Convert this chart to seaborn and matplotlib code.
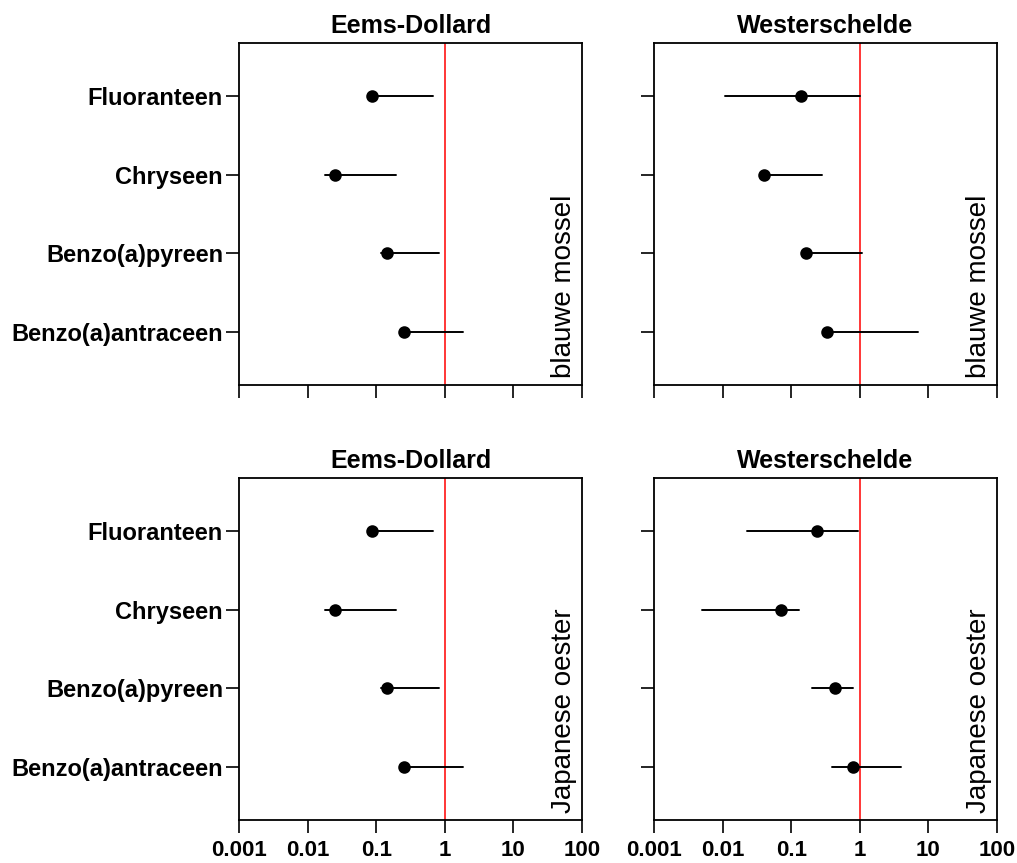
import numpy as np
import pandas as pd
import matplotlib
matplotlib.use("Agg")
import matplotlib.pyplot as plt
import seaborn as sns

# ---- data ----
categories = ["Fluoranteen", "Chryseen", "Benzo(a)pyreen", "Benzo(a)antraceen"]
regions = ["Eems-Dollard", "Westerschelde"]
species = ["blauwe mossel", "Japanese oester"]
xticks = [0.001, 0.01, 0.1, 1, 10, 100]
xticklabels = ["0.001", "0.01", "0.1", "1", "10", "100"]
reference_value = 1.0

ed_mossel_est = [0.088, 0.025, 0.146, 0.257]
ed_mossel_lo = [0.080, 0.018, 0.117, 0.240]
ed_mossel_hi = [0.67, 0.197, 0.81, 1.82]

ws_mossel_est = [0.137, 0.040, 0.164, 0.334]
ws_mossel_lo = [0.0108, 0.037, 0.150, 0.310]
ws_mossel_hi = [1.00, 0.279, 1.07, 7.1]

ed_oester_est = [0.088, 0.025, 0.146, 0.257]
ed_oester_lo = [0.080, 0.018, 0.117, 0.240]
ed_oester_hi = [0.67, 0.197, 0.81, 1.82]

ws_oester_est = [0.235, 0.070, 0.431, 0.79]
ws_oester_lo = [0.0225, 0.00494, 0.199, 0.39]
ws_oester_hi = [0.95, 0.128, 0.80, 3.96]

panels = {
    ("blauwe mossel", "Eems-Dollard"): (ed_mossel_lo, ed_mossel_est, ed_mossel_hi),
    ("blauwe mossel", "Westerschelde"): (ws_mossel_lo, ws_mossel_est, ws_mossel_hi),
    ("Japanese oester", "Eems-Dollard"): (ed_oester_lo, ed_oester_est, ed_oester_hi),
    ("Japanese oester", "Westerschelde"): (ws_oester_lo, ws_oester_est, ws_oester_hi),
}

sns.set_theme(style="white")
plt.rcParams["font.family"] = ["Liberation Sans", "DejaVu Sans"]
plt.rcParams["text.color"] = "black"
plt.rcParams["xtick.color"] = "black"
plt.rcParams["ytick.color"] = "black"
plt.rcParams["axes.labelcolor"] = "black"

fig = plt.figure(figsize=(10.17, 8.63), dpi=100)
W, H = 1017, 863
lefts = [239, 654]
tops = [43, 478]
aw, ah = 343, 342

for r, sp in enumerate(species):
    for c, reg in enumerate(regions):
        ax = fig.add_axes([lefts[c] / W, 1 - (tops[r] + ah) / H, aw / W, ah / H])
        lo, est, hi = panels[(sp, reg)]
        rows = []
        for cat, a, b, d in zip(categories, lo, est, hi):
            rows += [(cat, a), (cat, b), (cat, d)]
        df = pd.DataFrame(rows, columns=["stof", "waarde"])
        sns.pointplot(data=df, x="waarde", y="stof", order=categories,
                      estimator="median", errorbar=lambda v: (v.min(), v.max()),
                      linestyle="none", color="black", markersize=7,
                      err_kws={"linewidth": 1.4}, log_scale=True, ax=ax)
        ax.axvline(reference_value, color="red", lw=1.1, zorder=0)
        ax.set_xscale("log")
        ax.set_xlim(xticks[0], xticks[-1])
        ax.set_ylim(len(categories) - 1 + 0.67, -0.67)
        ax.set_xticks(xticks)
        ax.xaxis.set_minor_locator(matplotlib.ticker.NullLocator())
        ax.set_xlabel("")
        ax.set_ylabel("")
        if r == 1:
            ax.set_xticklabels(xticklabels, fontsize=16, fontweight="bold")
        else:
            ax.set_xticklabels([])
        ax.set_yticks(range(len(categories)))
        if c == 0:
            ax.set_yticklabels(categories, fontsize=17, fontweight="bold")
        else:
            ax.set_yticklabels([])
        ax.tick_params(axis="both", which="major", direction="out", length=9.5,
                       width=1.2, color="black", labelcolor="black",
                       left=True, bottom=True)
        ax.tick_params(axis="x", pad=5)
        ax.tick_params(axis="y", pad=2)
        for s in ax.spines.values():
            s.set_visible(True)
            s.set_color("black")
            s.set_linewidth(1.3)
        ax.set_title(reg, fontsize=18, fontweight="bold", pad=7, color="black")
        ax.text(0.985, 0.02, sp, transform=ax.transAxes, rotation=90,
                ha="right", va="bottom", fontsize=20, color="black")
        ax.grid(False)

fig.savefig("out.png", dpi=100)
